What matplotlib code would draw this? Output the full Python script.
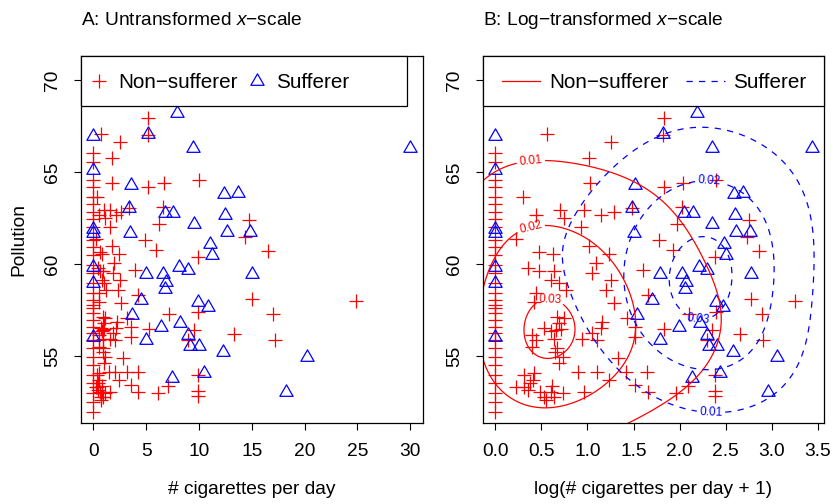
import numpy as np
import matplotlib
matplotlib.use("Agg")
import matplotlib.pyplot as plt
from matplotlib.lines import Line2D
from matplotlib.patches import Rectangle
from matplotlib.path import Path

plt.rcParams['font.family'] = ['Liberation Sans', 'DejaVu Sans']
plt.rcParams['mathtext.fontset'] = 'custom'
plt.rcParams['mathtext.it'] = 'Liberation Sans:italic'
plt.rcParams['mathtext.rm'] = 'Liberation Sans'

# non-sufferers: cigarettes per day and pollution
non_cigs = [0] * 32 + [
    0.75, 1.75, 1.80, 2.49, 0.35, 0.55, 1.01, 1.10, 1.61, 1.53, 2.15, 2.63, 0.25, 1.75, 0.60, 0.86, 1.97, 2.42,
    0.43, 0.60, 0.90, 1.86, 0.82, 0.99, 2.49, 1.15, 0.55, 0.52, 2.32, 2.63, 0.95, 1.10, 3.18,
    0.70, 0.82, 0.93, 1.03, 0.99, 0.49, 0.55, 0.49, 0.90, 1.56, 1.86, 2.03, 2.19, 2.16, 0.95, 0.92, 1.08, 2.78,
    0.99, 1.44, 2.03, 3.14, 2.42,
    0.36, 0.52, 0.51, 0.46, 0.25, 0.36, 0.42, 0.62, 0.82, 1.08, 0.70, 0.90, 0.73, 1.61, 0.85,
    5.21, 5.15, 5.21, 6.70, 10.0, 3.39, 6.55, 6.17, 4.93, 5.89, 3.95, 4.26, 3.57, 3.57, 5.23, 7.15, 9.9, 9.95,
    9.5, 9.0, 4.21, 3.57, 4.26, 6.10, 7.1, 9.9, 9.9, 9.9, 14.7, 14.4, 16.5, 15.0, 24.9, 17.0, 13.3, 17.2]
non_poll = [
    66.03, 65.58, 64.58, 64.18, 63.68, 63.28, 62.86, 62.44, 62.04, 61.32, 60.96, 60.50, 59.96, 59.51, 58.96, 58.42,
    58.06, 57.79, 57.61, 57.33, 56.97, 56.61, 56.25, 55.88, 55.43, 54.98, 54.52, 53.98, 53.53, 52.98, 52.53, 51.99,
    67.08, 65.76, 64.44, 66.67, 63.67, 62.68, 62.95, 62.50, 62.95, 62.04, 62.68, 62.86, 61.36, 61.0, 60.65, 60.56, 60.05, 60.56,
    59.78, 59.65, 59.65, 59.51, 59.14, 59.0, 59.14, 58.6, 58.42, 57.97, 58.6, 57.88, 57.15, 57.06, 57.1,
    56.52, 56.4, 56.45, 56.5, 56.8, 56.15, 55.88, 55.5, 55.92, 55.95, 56.25, 55.9, 56.88, 56.55, 55.43, 55.25, 54.98, 54.9,
    54.62, 54.16, 54.16, 54.16, 53.7,
    53.98, 54.07, 53.7, 53.53, 53.35, 53.35, 53.17, 53.07, 53.07, 52.98, 52.8, 52.8, 52.6, 53.08, 53.4,
    67.93, 67.03, 64.22, 64.4, 64.58, 63.04, 63.1, 62.19, 61.32, 60.78, 59.69, 58.33, 56.6, 56.03, 56.46, 57.3, 60.41, 57.4,
    56.45, 55.88, 54.16, 53.44, 53.07, 52.98, 53.4, 54.0, 53.1, 52.85, 62.4, 61.5, 60.7, 58.1, 58.0, 57.3, 56.2, 55.9]

# sufferers
suf_cigs = [0, 0, 0, 0, 0, 0, 0, 5.15, 7.96, 9.47, 30, 3.57, 12.4, 13.7, 12.5, 9.5, 12.7, 14.8, 3.48, 6.77, 7.52,
            3.4, 11.0, 11.2, 5.0, 6.57, 8.15, 8.95, 6.9, 6.8, 15.0, 4.49, 9.95, 10.9, 3.64, 6.38, 8.2, 5.0, 9.0,
            9.16, 10.05, 12.25, 20.2, 10.5, 7.42, 18.25]
suf_poll = [66.97, 65.13, 61.9, 61.7, 59.87, 59.0, 56.03, 67.1, 68.2, 66.3, 66.3, 64.3, 63.8, 63.85, 62.7, 62.2, 61.77,
            61.77, 61.72, 62.77, 62.77, 63.06, 61.1, 60.5, 59.5, 59.5, 59.87, 59.69, 59.05, 58.64, 59.5, 58.06, 57.97,
            57.7, 57.25, 56.58, 56.8, 55.9, 56.16, 55.56, 55.56, 55.25, 54.98, 54.1, 53.8, 53.08]

contour_levels = [0.01, 0.02, 0.03]
# kernel bandwidths (log-cigs, pollution)
bw_non = (0.6, 3.1)
bw_suf = (0.7, 3.0)

non_cigs = np.array(non_cigs)
non_poll = np.array(non_poll)
suf_cigs = np.array(suf_cigs)
suf_poll = np.array(suf_poll)


def kde2d(x, y, hx, hy, gx, gy):
    kx = np.exp(-0.5 * ((gx[None, :] - x[:, None]) / hx) ** 2) / (np.sqrt(2 * np.pi) * hx)
    ky = np.exp(-0.5 * ((gy[None, :] - y[:, None]) / hy) ** 2) / (np.sqrt(2 * np.pi) * hy)
    X, Y = np.meshgrid(gx, gy)
    return X, Y, ky.T @ kx / len(x)


tri = Path([(-1, -0.577), (1, -0.577), (0, 1.155), (-1, -0.577)], closed=True)
fs = 13.8
red = '#FF0000'
blue = '#0000FF'

fig = plt.figure(figsize=(8.33, 5.04), dpi=100)
ax1 = fig.add_axes([0.0969, 0.1601, 0.4106, 0.7288])
ax2 = fig.add_axes([0.5795, 0.1601, 0.4101, 0.7288])

ylim = (51.36, 71.32)

# A: raw scale
ax1.plot(non_cigs, non_poll, ls='none', marker='+', ms=10, mew=0.9, color=red)
ax1.plot(suf_cigs, suf_poll, ls='none', marker=tri, ms=11, mew=0.9, mfc='none', mec=blue)
ax1.set_xlim(-1.2, 31.2)
ax1.set_xticks(range(0, 31, 5))
ax1.set_xlabel('# cigarettes per day', fontsize=fs, labelpad=15)
ax1.set_ylabel('Pollution', fontsize=fs, labelpad=12)
ax1.set_title('A: Untransformed $x$\u2212scale', loc='left', fontsize=fs, pad=22)

# B: log scale with density contours
lx_non = np.log1p(non_cigs)
lx_suf = np.log1p(suf_cigs)
ax2.plot(lx_non, non_poll, ls='none', marker='+', ms=10, mew=0.9, color=red)
ax2.plot(lx_suf, suf_poll, ls='none', marker=tri, ms=11, mew=0.9, mfc='none', mec=blue)
gx = np.linspace(-0.2, 3.7, 200)
gy = np.linspace(50, 72, 200)
X, Y, zn = kde2d(lx_non, non_poll, bw_non[0], bw_non[1], gx, gy)
cn = ax2.contour(X, Y, zn, levels=contour_levels, colors=red, linewidths=0.9)
ax2.clabel(cn, fmt='%.2f', fontsize=8.5, inline=True, inline_spacing=2,
           manual=[(0.39, 65.3), (0.39, 61.9), (0.58, 57.24)])
X, Y, zs = kde2d(lx_suf, suf_poll, bw_suf[0], bw_suf[1], gx, gy)
cs = ax2.contour(X, Y, zs, levels=contour_levels, colors=blue, linewidths=0.9, linestyles=[(0, (5, 5))])
ax2.clabel(cs, fmt='%.2f', fontsize=8.5, inline=True, inline_spacing=2,
           manual=[(2.34, 51.9), (2.32, 64.3), (2.21, 57.15)])
lx_max = max(lx_non.max(), lx_suf.max())
ax2.set_xlim(-0.04 * lx_max, 1.04 * lx_max)
ax2.set_xticks(np.arange(0, 3.6, 0.5))
ax2.set_xticklabels(['%.1f' % t for t in np.arange(0, 3.6, 0.5)])
ax2.set_xlabel('log(# cigarettes per day + 1)', fontsize=fs, labelpad=15)
ax2.set_title('B: Log\u2212transformed $x$\u2212scale', loc='left', fontsize=fs, pad=22)

for ax in (ax1, ax2):
    ax.set_ylim(*ylim)
    ax.set_yticks([55, 60, 65, 70])
    ax.tick_params(direction='out', length=5, width=0.8, labelsize=fs, pad=9)
    for lab in ax.get_yticklabels():
        lab.set_rotation(90)
        lab.set_va('center')
    for s in ax.spines.values():
        s.set_linewidth(0.9)

# legend boxes
ax1.add_patch(Rectangle((0, 0.8639), 0.955, 0.1361, transform=ax1.transAxes, facecolor='white',
                        edgecolor='black', lw=0.9, zorder=5, clip_on=False))
ax2.add_patch(Rectangle((0, 0.8639), 1.0, 0.1361, transform=ax2.transAxes, facecolor='white',
                        edgecolor='black', lw=0.9, zorder=5, clip_on=False))
h1 = [Line2D([], [], ls='none', marker='+', ms=10, mew=0.9, color=red),
      Line2D([], [], ls='none', marker=tri, ms=11, mew=0.9, mfc='none', mec=blue)]
leg1 = ax1.legend(h1, ['Non\u2212sufferer', 'Sufferer'], loc='center left', bbox_to_anchor=(0, 0.928),
                  ncol=2, frameon=False, fontsize=14.9, handlelength=1.0, handletextpad=0.42,
                  columnspacing=0.42, borderaxespad=0, borderpad=0.38)
leg1.set_zorder(6)
h2 = [Line2D([], [], color=red, lw=0.9), Line2D([], [], color=blue, lw=0.9, ls=(0, (5, 5)))]
leg2 = ax2.legend(h2, ['Non\u2212sufferer', 'Sufferer'], loc='center left', bbox_to_anchor=(0, 0.928),
                  ncol=2, frameon=False, fontsize=14.9, handlelength=1.84, handletextpad=0.43,
                  columnspacing=0.87, borderaxespad=0, borderpad=0.93)
leg2.set_zorder(6)

plt.savefig('out.png', dpi=100)
